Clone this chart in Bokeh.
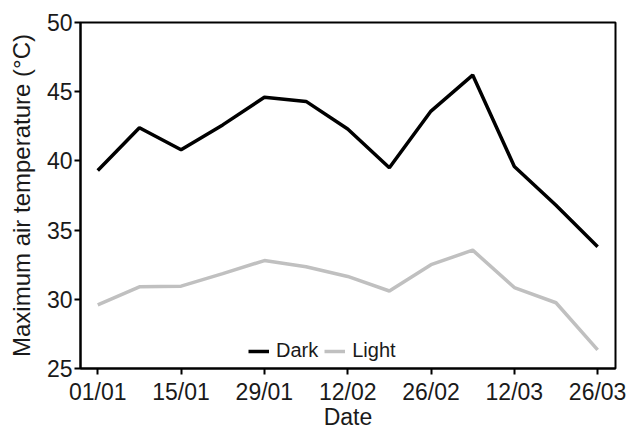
import pandas as pd
from bokeh.plotting import figure
from bokeh.models import FixedTicker, DatetimeTickFormatter, Range1d, Legend, LegendItem
from bokeh.embed import file_html
from bokeh.resources import INLINE

dates = ["2023-01-01", "2023-01-08", "2023-01-15", "2023-01-22", "2023-01-29",
         "2023-02-05", "2023-02-12", "2023-02-19", "2023-02-26", "2023-03-05",
         "2023-03-12", "2023-03-19", "2023-03-26"]
dark = [39.3, 42.4, 40.8, 42.6, 44.6, 44.3, 42.3, 39.5, 43.6, 46.2, 39.6, 36.8, 33.8]
light = [29.6, 30.9, 30.95, 31.85, 32.8, 32.35, 31.65, 30.6, 32.5, 33.55, 30.85, 29.75, 26.35]
tick_dates = ["2023-01-01", "2023-01-15", "2023-01-29", "2023-02-12",
              "2023-02-26", "2023-03-12", "2023-03-26"]
y_ticks = [25, 30, 35, 40, 45, 50]

x = pd.to_datetime(dates)
ticks_ms = [pd.Timestamp(d).value / 1e6 for d in tick_dates]
day_ms = 86400000.0

FONT = "Liberation Sans"

p = figure(width=629, height=432, x_axis_type="datetime",
           output_backend="svg", toolbar_location=None,
           min_border_left=80, min_border_right=14, min_border_top=22, min_border_bottom=61)
p.x_range = Range1d(ticks_ms[0] - 2.9 * day_ms, ticks_ms[-1] + 3.0 * day_ms)
p.y_range = Range1d(25, 50)

r1 = p.line(x, dark, line_color="black", line_width=3.5)
r2 = p.line(x, light, line_color="#c0c0c0", line_width=3.5)

p.xaxis.ticker = FixedTicker(ticks=ticks_ms)
p.xaxis.formatter = DatetimeTickFormatter(days="%d/%m", months="%d/%m", years="%d/%m")
p.yaxis.ticker = FixedTicker(ticks=y_ticks)

p.xgrid.visible = False
p.ygrid.visible = False
p.outline_line_color = "black"
p.outline_line_width = 2
p.outline_line_alpha = 1

for ax in [p.xaxis[0], p.yaxis[0]]:
    ax.axis_line_width = 2
    ax.axis_line_color = "black"
    ax.major_tick_line_width = 2
    ax.major_tick_line_color = "black"
    ax.major_tick_out = 6
    ax.major_tick_in = 0
    ax.minor_tick_line_color = None
    ax.major_label_text_font = FONT
    ax.major_label_text_font_size = "23px"
    ax.major_label_text_color = "#1a1a1a"
    ax.axis_label_text_font = FONT
    ax.axis_label_text_font_size = "23px"
    ax.axis_label_text_font_style = "normal"
    ax.axis_label_text_color = "#1a1a1a"

p.yaxis.axis_label_text_font_size = "24px"
p.xaxis.axis_label = "Date"
p.yaxis.axis_label = "Maximum air temperature (°C)"
p.xaxis.major_label_standoff = 4
p.xaxis.axis_label_standoff = -4
p.yaxis.major_label_standoff = 2
p.yaxis.axis_label_standoff = 9

legend = Legend(items=[LegendItem(label="Dark", renderers=[r1]),
                       LegendItem(label="Light", renderers=[r2])],
                location=(168, 6), orientation="horizontal")
legend.border_line_color = None
legend.background_fill_alpha = 0
legend.label_text_font = FONT
legend.label_text_font_size = "20px"
legend.label_text_color = "#1a1a1a"
legend.glyph_width = 21
legend.label_standoff = 7
legend.spacing = 6
legend.padding = 2
legend.margin = 0
p.add_layout(legend, "center")

open("out.html", "w").write(file_html(p, INLINE))
